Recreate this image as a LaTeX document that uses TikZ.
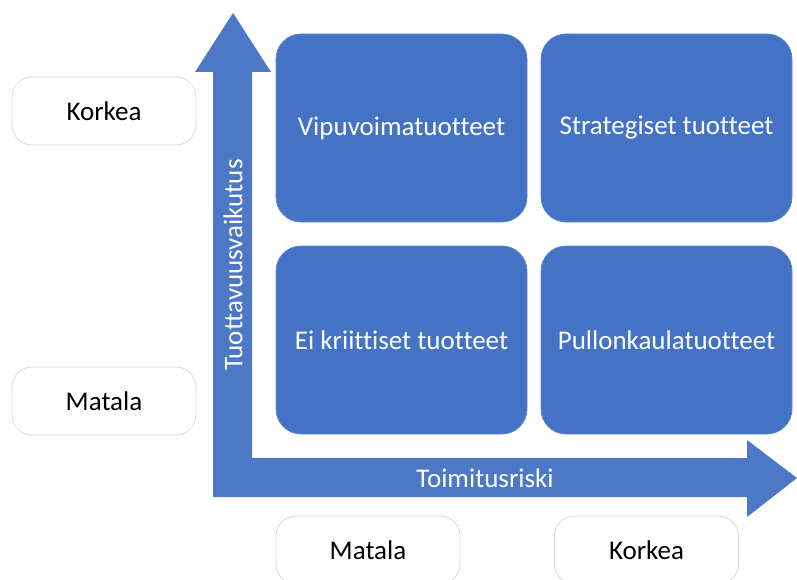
\documentclass[tikz,border=0pt]{standalone}
\usepackage{fontspec}
\setmainfont{Carlito}[Ligatures={NoCommon}]
\definecolor{boxblue}{HTML}{4472C4}
\definecolor{arrowblue}{HTML}{4D78C6}
\definecolor{frame}{HTML}{D9D9D9}
\newcommand{\quadtext}[1]{\raisebox{-3pt}{#1}}
\begin{document}
\begin{tikzpicture}[x=1pt,y=-1pt,
  quad/.style={rectangle,rounded corners=25pt,fill=boxblue,draw=boxblue!85!white,line width=0.8pt,
    minimum width=251pt,minimum height=188pt,text=white,font=\fontsize{27}{32}\selectfont},
  level/.style={rectangle,rounded corners=20pt,fill=white,draw=frame,line width=0.8pt,
    minimum width=184pt,minimum height=68pt,text=black,font=\fontsize{27}{32}\selectfont},
  axislabel/.style={text=white,font=\fontsize{27}{32}\selectfont}]
\useasboundingbox (0,0) rectangle (797,580);
% L-shaped axes with arrow heads
\fill[arrowblue] (213,497) -- (213,72) -- (195,72) -- (233,13) -- (271,72) -- (252,72)
  -- (252,458) -- (747,458) -- (747,440) -- (797,478) -- (747,517) -- (747,497) -- cycle;
\node[axislabel,rotate=90] (ylab) at (233,265) {Tuottavuusvaikutus};
\node[axislabel] (xlab) at (485,478) {Toimitusriski};
% quadrants
\node[quad] (q1) at (401.5,128) {\quadtext{Vipuvoimatuotteet}};
\node[quad] (q2) at (666.5,128) {\quadtext{Strategiset tuotteet}};
\node[quad] (q3) at (401.5,340) {\quadtext{Ei kriittiset tuotteet}};
\node[quad] (q4) at (666.5,340) {\quadtext{Pullonkaulatuotteet}};
% level labels
\node[level] (yhigh) at (104,111) {Korkea};
\node[level] (ylow) at (104,401) {Matala};
\node[level] (xlow) at (368,550) {Matala};
\node[level] (xhigh) at (646.5,550) {Korkea};
\end{tikzpicture}
\end{document}
